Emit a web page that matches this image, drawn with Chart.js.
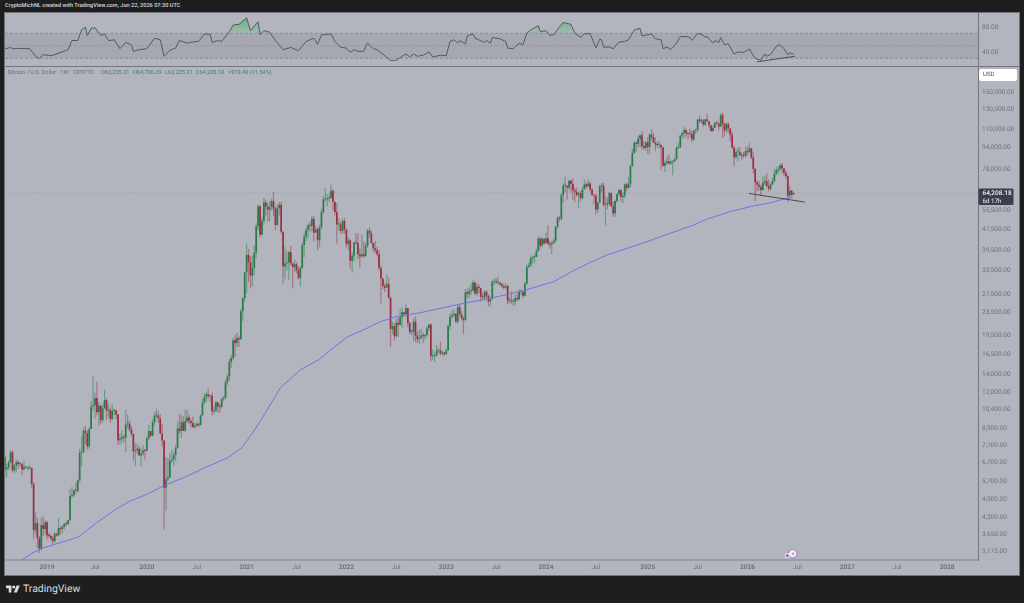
<!DOCTYPE html>
<html>
<head>
<meta charset="utf-8">
<title>Bitcoin / U.S. Dollar weekly</title>
<script src="https://cdn.jsdelivr.net/npm/chart.js@4"></script>
<style>
  html, body { margin: 0; padding: 0; background: #1e1e1e; width: 1024px; height: 603px; overflow: hidden; }
  body { position: relative; font-family: Roboto, "Liberation Sans", sans-serif; text-rendering: geometricPrecision; }
  #panel { position: absolute; left: 4px; top: 12px; width: 1014px; height: 562px; background: #b2b5be; border: 1px solid #6f727b; box-sizing: content-box; }
  #divider { position: absolute; left: 5px; top: 66px; width: 1014px; height: 1px; background: #74777f; }
  #rsiBox { position: absolute; left: 5px; top: 13px; width: 1014px; height: 53px; }
  #priceBox { position: absolute; left: 5px; top: 67px; width: 1014px; height: 507px; }
  canvas { display: block; }
  #credit { position: absolute; left: 5px; top: 2px; font-size: 5.6px; line-height: 9px; font-weight: 500; color: #d6d8de; white-space: nowrap; }
  .lg { position: absolute; top: 69px; font-size: 5.6px; line-height: 9px; color: #3f7f58; white-space: nowrap; }
  #lgName { left: 8px; font-size: 5.6px; color: #6c6f79; }
  #usd { position: absolute; left: 979px; top: 69px; width: 38px; height: 12px; border-radius: 2px; background: #fff; color: #4a4c55; font-size: 6px; line-height: 12px; text-indent: 4px; }
  #brand { position: absolute; left: 23px; top: 582px; font-size: 10.4px; line-height: 14px; font-weight: 400; color: #dcdde0; white-space: nowrap; }
  #logo { position: absolute; left: 6px; top: 585px; }
  #marker { position: absolute; left: 782px; top: 547px; }
</style>
</head>
<body>
<div id="panel"></div>
<div id="rsiBox"><canvas id="rsi" width="1014" height="53"></canvas></div>
<div id="divider"></div>
<div id="priceBox"><canvas id="price" width="1014" height="507"></canvas></div>
<div id="credit">CryptoMichNL created with TradingView.com, Jun 22, 2026 07:30 UTC</div>
<div class="lg" id="lgName">Bitcoin / U.S. Dollar · 1W · CRYPTO</div>
<div class="lg" style="left:101px">O63,235.31</div>
<div class="lg" style="left:133px">H64,706.39</div>
<div class="lg" style="left:165px">L63,235.31</div>
<div class="lg" style="left:196px">C64,208.18</div>
<div class="lg" style="left:228px">+973.40 (+1.54%)</div>
<div id="usd">USD</div>
<svg id="marker" width="16" height="13" viewBox="0 0 16 13">
  <circle cx="10.7" cy="6.7" r="4.2" fill="#f4eef6" stroke="#b565cf" stroke-width="1"/>
  <path d="M11.6 4.6 9.9 7h1.5l-1 2.2 2-2.8h-1.4z" fill="#8e44ad"/>
  <circle cx="5.3" cy="8.7" r="2.4" fill="#e9e9f3"/>
  <path d="M3.9 8.7h2.8M5.3 7.3v2.8" stroke="#4a3fd0" stroke-width="1"/>
</svg>
<svg id="logo" width="14" height="8" viewBox="0 3 36 20">
  <path d="M14 22H7V11H0V4h14v18zM28 22h-8l7.5-18h8L28 22z" fill="#dcdde0"/>
  <circle cx="20" cy="8" r="4" fill="#dcdde0"/>
</svg>
<div id="brand">TradingView</div>

<script>
// Weekly candles, first bar opening Aug 6 2018, last bar Jun 22 2026. X values are week numbers.
const firstOpen = 7000;

const closes = [
  6300,6400,6700,7270,6250,6500,6700,6600,6580,6290,6410,6410,6360,6380,5580,3780,4020,3530,3240,3950,3820,4040,
  3620,3600,3530,3450,3670,3620,3850,3820,3900,3990,3980,4110,5040,5070,5280,5270,5750,7250,7260,8730,8550,7650,8850,10680,10800,11480,10190,10770,9530,10520,11290,10320,10370,9600,10300,10350,10000,8050,8150,8270,8220,9200,9260,8800,8480,7330,7400,7500,7090,7220,7380,7350,
  8180,8700,8360,9350,9900,9900,9680,8530,8040,5400,5800,5900,6770,6860,7100,7550,8880,8700,9370,8720,9450,9750,9460,9300,9000,9070,9230,9160,9930,11050,11600,11850,11650,11700,10250,10330,11080,10700,10650,11370,11500,13100,13750,15500,16050,18650,18200,19000,18800,23800,26500,33000,
  38200,36000,32100,34300,38900,48600,57400,45200,50900,59300,57300,55800,57100,60000,56300,49100,56600,58200,46400,34700,35600,35800,39100,35600,34500,35300,33500,31500,34200,41500,44600,47100,49000,48800,51700,46000,47300,43200,48200,54700,60900,60900,61300,61500,65500,59700,54700,49300,49300,46700,50800,47300,
  41800,43100,36300,37900,42400,42200,38400,37700,38400,37800,41300,46800,45800,42200,40400,39700,38500,34100,31300,29400,29000,29900,26600,20500,21000,19300,21600,21200,22600,23600,23200,24400,21500,20000,20000,21800,19400,18800,19000,19400,19300,19500,20600,21300,16300,16300,16400,17100,17100,16700,16800,16600,
  17100,21000,22700,23000,23300,21800,24600,23200,22400,22100,27900,27500,28170,28300,30300,27600,29200,28900,26800,26700,28000,27100,25800,26300,30500,30500,30300,30300,29800,29300,29000,29400,26000,26000,25800,25800,26600,26300,28000,28000,27100,30000,34500,35000,37000,37400,37500,39400,43800,41300,43700,42100,
  43900,41900,41600,42100,43000,48300,52100,51700,63100,68300,68400,67200,71300,69300,65700,64900,63100,64000,61500,66200,69000,67800,69600,66200,63200,62700,55900,59200,68200,68300,58200,58700,58400,64200,57300,54100,60000,63600,65900,62100,62800,69000,67000,69400,80400,89800,97900,97000,101100,104400,95200,93700,98300,
  94500,104800,102600,97700,96500,96100,96200,94200,80700,82600,83800,82300,83500,83700,85200,93700,94300,104100,106400,109000,105800,105600,105500,100800,108400,109200,119100,117400,117900,114200,119300,117400,113500,108200,111100,115400,115300,112100,123500,115200,108600,114500,110600,104700,94000,86800,90400,90400,88200,88000,87800,91500,
  90500,93600,86500,78700,70300,68800,67700,65900,70000,71000,68000,66500,69000,71000,75500,77500,78500,81000,79000,76000,74000,62800,65500,63235.31,64208.18
];

const highs = [
  7150,6600,6800,7400,7400,6600,6850,6800,6700,6650,6800,6500,6450,6550,6400,5650,4400,4200,3600,4200,4250,4100,
  4100,3700,3660,3600,3730,3700,4200,3900,3950,4010,4060,4130,5350,5450,5350,5650,5800,7500,8350,8950,9080,8800,8990,11200,13800,12000,13150,11100,10650,10950,12300,11500,10950,10600,10900,10500,10350,10050,8500,8800,8450,10400,9950,9500,9080,8500,7850,7800,7650,7500,7700,7500,
  8300,9180,8650,9600,10200,10500,10300,9990,9200,8000,7000,6950,7200,7450,7300,7750,9450,10050,9950,9850,10400,10400,10000,9600,9800,9300,9450,9300,10000,11400,11900,12100,12450,11750,12050,10750,11200,11000,10950,11500,11700,13350,14000,15950,16500,18950,19500,19900,19400,24300,26800,33000,
  41900,40100,37800,38000,41300,49700,58300,58000,52600,61700,60800,59000,60000,61300,64900,57500,58400,59500,59600,46600,40800,39400,39500,41300,35700,36700,35900,34700,34800,42500,46000,48100,49700,50500,52900,52900,48800,47900,49300,56000,62900,67000,63700,64000,69000,66300,59400,59000,51900,50500,51900,52100,
  47500,44300,43500,38900,42500,45800,45800,40300,45400,42600,42300,47500,48200,46900,42400,42900,40800,39800,35000,31400,30100,32400,31600,26900,21800,21500,22400,22500,24200,24600,23700,25200,24400,21800,20500,22400,22800,20000,20300,20500,19900,19700,21000,21400,21400,17200,16800,17900,17400,18400,17100,16900,
  17400,21300,23300,23800,24200,23400,25200,25200,23800,22800,28600,28800,29100,30000,31000,30500,30000,29900,29000,27700,28400,28400,27400,26800,30800,31400,31400,31800,30300,30200,30000,30100,29700,26800,28100,26400,27400,27400,28600,28600,28100,30400,35200,35900,37900,37900,38400,40200,44700,44400,44300,43800,
  45900,49000,43000,42800,43900,48600,52800,52900,64000,69900,73800,68100,71500,71300,72700,67100,67200,64700,65500,67700,71900,70000,71900,70500,66800,63300,63800,59500,68400,70000,70000,62700,61800,65000,64500,59800,60600,64100,66500,66000,64400,69500,70000,73600,81500,93400,99500,98900,104000,105200,108300,99900,99000,
  102700,106400,109900,106400,102400,98800,99500,96500,95000,84500,87500,88700,85000,84200,86500,95700,97900,104300,107100,111900,110400,106800,110500,108900,108800,110500,119500,123200,120200,119800,119300,124500,117600,113500,113400,116800,117900,113300,125700,126200,115900,116000,116400,107300,107500,96000,93000,94100,94600,90500,90600,94800,
  94800,97900,93000,90500,79400,71500,70900,69000,74000,74000,76000,72000,70000,73000,78500,80000,80500,82500,82500,79000,77500,74500,68000,66000,64706.39
];

const lows = [
  5900,5900,6250,6650,6150,6100,6150,6350,6450,6000,6250,6350,6250,6300,5400,3500,3650,3250,3120,3200,3600,3650,
  3500,3550,3450,3350,3400,3580,3600,3650,3680,3800,3900,3950,4100,4950,5000,5150,5200,5650,6450,7500,7800,7450,7500,8950,10300,9650,9900,9100,9200,9350,10500,9500,9800,9300,9600,9950,9600,7750,7750,7850,7900,7300,8900,8650,8300,6800,6500,7150,7050,6450,7050,6850,
  7700,8050,8250,8300,9100,9700,9300,8450,7650,3800,4450,5700,5850,6650,6500,6750,7500,8500,8200,8700,8650,9300,9200,8950,8900,8850,9050,8950,9100,9850,10900,11100,11400,11100,9900,10000,10200,10150,10150,10500,11200,11350,12800,13200,14800,15750,16200,17600,17600,18700,21900,25800,
  27700,30400,28800,29200,32300,37000,47000,44100,45000,49300,53200,50500,50400,55500,53000,47000,48800,53000,45700,30000,31200,33400,31000,34900,28800,33000,32700,31000,29300,34000,37500,42800,43800,46400,46500,42800,46700,39600,40800,47200,53900,59500,57500,59500,61500,55600,53300,42000,46700,45600,45500,45700,
  40600,39700,34000,32900,36200,41700,36800,34400,37200,37200,37600,40500,44200,41900,39200,38600,37700,33600,25400,28700,28000,29300,26600,17600,19700,18600,19000,19200,21200,20700,22700,22700,20800,19600,19500,18500,18300,18200,18100,18900,18200,18700,19200,20100,15600,15800,15500,16300,16700,16400,16400,16300,
  16500,17100,20400,22300,22600,21500,21400,22800,21900,19600,21800,26600,26500,27200,28000,27200,26900,27600,25800,26100,25900,26500,24800,24800,26300,29500,29900,29700,29500,29000,28600,28800,25200,25400,25400,24900,25000,26000,26000,27200,26600,26900,29700,34100,34600,35600,35700,37500,39200,40200,41000,41600,
  42600,41500,40300,38500,41900,42300,47700,50500,50900,59000,64500,60800,65900,64500,60700,59600,62400,56500,60100,60800,66600,66600,67600,65100,62700,58500,53400,54300,63400,64500,57100,49000,56100,57800,57200,52500,52600,59200,62700,59900,58900,61500,65200,66800,67500,80300,89400,90800,94500,94100,92100,92500,91300,
  89300,89100,100100,97800,91200,94100,93400,78200,80000,76600,81200,81600,81300,74500,83100,85100,92900,93500,100800,102000,103100,100400,102700,98200,99500,105100,107500,115700,114700,112000,112700,116800,110700,107400,107300,110800,114400,108700,112500,102000,103500,106800,106300,98900,93000,80600,85400,83800,87500,84500,86400,86800,
  88000,90000,85500,75700,60000,65000,65600,62500,65500,68500,67500,65000,65700,68500,70500,74500,75500,77500,76000,74000,72500,59500,61500,62500,63235.31
];

// Long-period moving average, read at the week numbers listed here.
const maWeeks = [8.8,14.7,19.9,38.2,47.9,57.5,65.3,74,82.5,94,105.3,115.8,123.6,129.5,133.1,143.6,154,163.5,171.2,178.4,186.9,195.7,204.4,216.6,225.3,240,253,270.3,286,294.8,305.3,314,331.4,359,366.1,378.3,390.3,399.2,406,410.5];
const maValues = [2944,3130,3256,3568,4027,4492,4830,5110,5480,5910,6440,6930,7570,8630,9440,12500,14540,15820,17500,19175,20340,21800,22780,23500,24240,25500,26520,28280,30500,33030,35920,38200,41900,49100,51660,55000,57700,59160,61100,61900];

// RSI pane: week numbers and readings.
const rsiWeeks = [0,3,4,6,13,16,18,20,24,26,33,35,38,40,42,43,45,47,50,52,54,57,60,63,66,67,70,74,78,81,83,86,89,91,95,97,101,104,107,108,111,113,117,119,122,126,128,132,133,135,138,141,145,149,153,157,161,163,165,170,172,175,
  178,180,182,184,187,189,192,194,198,201,204,209,211,213,215,218,221,223,227,230,232,234,236,237,240,241,244,245,250,251,253,254,258,261,262,265,268,270,272,274,278,279,282,284,286,288,291,295,297,300,302,305,308,310,311,312,315,317,320,323,325,328,331,332,337,339,342,343,345,347,350,352,
  355,357,358,361,363,365,366,369,370,372,373,375,377,380,382,385,388,391,394,396,397,399,402,404,406,408,409,411];
const rsiValues = [44.8,47.4,44.8,45.8,45.3,33.2,29.5,35.8,34.2,35.8,43.7,58.4,58.4,75.3,79.5,66.3,77.9,78.9,66.3,69,58.4,59.5,45.3,55.3,51.6,41.1,43.7,45.3,62.1,59.5,33.2,42.6,46.3,58.4,54.2,55.8,56.9,68.9,68.4,55.3,58.4,56.9,72.6,83.2,84.2,94.7,74.2,88.4,67.4,74.2,71.6,58.4,43.7,47.4,42.1,56.9,62.1,52.6,67.4,68.9,56.9,47.4,
  46.3,39.5,43.7,41.1,41.1,54.2,45.3,43.7,34.2,26.3,26.9,36.9,32.1,36.9,33.2,34.8,40,32.1,34.8,34.2,56.9,59.5,54.2,58.4,53.2,65.8,68.9,62.1,55.3,58.4,54.2,63.2,61.1,56.9,46.3,45.3,54.2,51.6,70,75.3,82.1,72.6,74.2,66.8,67.4,76.3,87.4,84.2,70,63.7,68.9,69.5,46.3,60.5,59.5,47.9,47.9,45.3,55.8,56.9,59.5,75.3,77.9,65.8,68.9,61.1,59.5,45.3,47.9,43.7,54.2,64.7,
  64.7,63.2,58.4,69.5,68.4,63.7,64.7,54.2,58.4,55.3,63.2,51.6,53.2,36.9,40,39.5,44.8,29.5,26.9,36.9,33.2,35.8,49,51.6,45.3,35.8,38.4,36.9];

// Hand-drawn trend lines.
const priceTrendWeeks = [387.7, 416.9];
const priceTrendValues = [64000, 59500];
const rsiTrendWeeks = [391.9, 411.7];
const rsiTrendValues = [24.2, 33.2];

// Axis labels.
const timeTickWeeks = [22,47,74,100,126,152,178,204,230,256,282,308,335,361,387,413,439,465,491];
const timeTickLabels = ['2019','Jul','2020','Jul','2021','Jul','2022','Jul','2023','Jul','2024','Jul','2025','Jul','2026','Jul','2027','Jul','2028'];
const priceTicks = [150000,130000,110000,94000,78000,55500,47500,39500,33500,27500,23500,19500,16500,14000,12000,10400,8900,7700,6700,5700,4900,4200,3650,3175];
const rsiTicks = [80, 40];
const lastPrice = 64208.18;
const barCountdown = '6d 17h';

const weekMin = 0.1, weekMax = 507.1;
const UP = '#2a7a4a', DOWN = '#9a2f44', UP_WICK = 'rgba(42,125,78,0.5)', DOWN_WICK = 'rgba(155,35,57,0.45)';
const TICK_COLOR = '#6d707a', AXIS_LINE = '#74777f', TREND = 'rgba(50,51,56,0.8)';
const fontFamily = 'Roboto, "Liberation Sans", sans-serif';

const zip = (xs, ys) => xs.map((x, i) => ({ x, y: ys[i] }));
const opens = closes.map((_, i) => (i === 0 ? firstOpen : closes[i - 1]));
const isUp = i => closes[i] >= opens[i];

// Fixed axis sizes; no extra room reserved for the outermost labels.
const fitPriceAxis = s => { s.width = 41; s.paddingTop = 0; s.paddingBottom = 0; };
const fitTimeAxis = s => { s.height = 14; s.paddingLeft = 0; s.paddingRight = 0; };

// Fractional glyph advances keep the very small axis text at its true width.
Chart.register({
  id: 'preciseText',
  beforeDraw(chart) { chart.ctx.textRendering = 'geometricPrecision'; }
});

// Current-price tag on the price axis, following the y scale.
const lastPriceTag = {
  id: 'lastPriceTag',
  afterDraw(chart) {
    const { ctx, scales: { y } } = chart;
    const py = y.getPixelForValue(lastPrice);
    const left = y.left + 0.5;
    ctx.save();
    ctx.fillStyle = '#3b3e4c';
    ctx.beginPath();
    ctx.roundRect(left, py - 4.5, 35, 16.5, 1.5);
    ctx.fill();
    ctx.fillStyle = '#f2f3f5';
    ctx.textBaseline = 'middle';
    ctx.font = '500 6.5px ' + fontFamily;
    ctx.fillText(lastPrice.toLocaleString('en-US', { minimumFractionDigits: 2 }), left + 4, py);
    ctx.font = '6.2px ' + fontFamily;
    ctx.fillText(barCountdown, left + 4, py + 8);
    ctx.restore();
  }
};

new Chart(document.getElementById('price'), {
  type: 'bar',
  plugins: [lastPriceTag],
  data: {
    datasets: [
      { type: 'line', order: 0, data: zip(priceTrendWeeks, priceTrendValues), borderColor: TREND, borderWidth: 1, pointRadius: 0 },
      { type: 'line', order: 1, data: zip(maWeeks, maValues), borderColor: '#7272e2', borderWidth: 1, pointRadius: 0, tension: 0 },
      { type: 'bar', order: 2, grouped: false, barThickness: 1.7, minBarLength: 1, inflateAmount: 0,
        data: closes.map((c, i) => ({ x: i, y: [opens[i], c] })),
        backgroundColor: ctx => (isUp(ctx.dataIndex) ? UP : DOWN) },
      { type: 'bar', order: 3, grouped: false, barThickness: 1.2, inflateAmount: 0,
        data: closes.map((_, i) => ({ x: i, y: [lows[i], highs[i]] })),
        backgroundColor: ctx => (isUp(ctx.dataIndex) ? UP_WICK : DOWN_WICK) },
      { type: 'line', order: 4, data: zip([weekMin, weekMax], [lastPrice, lastPrice]), borderColor: '#9a9da6', borderWidth: 1, borderDash: [1, 2], pointRadius: 0 }
    ]
  },
  options: {
    responsive: false, animation: false, events: [],
    layout: { padding: 0 },
    plugins: { legend: { display: false }, tooltip: { enabled: false } },
    scales: {
      x: {
        type: 'linear', offset: false, min: weekMin, max: weekMax,
        grid: { display: false, drawTicks: false },
        border: { display: true, color: '#999ca5', width: 2 },
        afterBuildTicks: s => { s.ticks = timeTickWeeks.map(value => ({ value })); },
        afterFit: fitTimeAxis,
        ticks: {
          autoSkip: false, maxRotation: 0, padding: 3, color: TICK_COLOR,
          font: c => ({ family: fontFamily, size: 6.5, weight: timeTickLabels[c.index] === 'Jul' ? 400 : 700 }),
          callback: (_, i) => timeTickLabels[i]
        }
      },
      y: {
        type: 'logarithmic', position: 'right', min: 2944, max: 185060, bounds: 'data',
        grid: { display: false, drawTicks: false },
        border: { display: true, color: AXIS_LINE, width: 1 },
        afterBuildTicks: s => { s.ticks = priceTicks.map(value => ({ value })); },
        afterFit: fitPriceAxis,
        ticks: {
          autoSkip: false, padding: 4, color: TICK_COLOR, font: { family: fontFamily, size: 6.5 },
          callback: v => Number(v).toLocaleString('en-US', { minimumFractionDigits: 2 })
        }
      }
    }
  }
});

const rsiCanvas = document.getElementById('rsi');
const overboughtFill = rsiCanvas.getContext('2d').createLinearGradient(0, 4, 0, 20);
overboughtFill.addColorStop(0, 'rgba(62,170,90,0.75)');
overboughtFill.addColorStop(1, 'rgba(110,200,130,0.25)');

new Chart(rsiCanvas, {
  type: 'line',
  data: {
    datasets: [
      { order: 0, data: zip(rsiTrendWeeks, rsiTrendValues), borderColor: TREND, borderWidth: 1, pointRadius: 0 },
      { order: 1, data: zip(rsiWeeks, rsiValues), borderColor: '#565860', borderWidth: 1, pointRadius: 0,
        fill: { value: 70, above: overboughtFill, below: 'rgba(0,0,0,0)' } },
      { order: 2, data: zip([weekMin, weekMax], [70, 70]), borderColor: '#8b8e97', borderWidth: 1, borderDash: [3, 2], pointRadius: 0,
        fill: { value: 30 }, backgroundColor: 'rgba(120,123,134,0.22)' },
      { order: 3, data: zip([weekMin, weekMax], [50, 50]), borderColor: '#8b8e97', borderWidth: 1, borderDash: [1, 2], pointRadius: 0 },
      { order: 4, data: zip([weekMin, weekMax], [30, 30]), borderColor: '#8b8e97', borderWidth: 1, borderDash: [3, 2], pointRadius: 0 }
    ]
  },
  options: {
    responsive: false, animation: false, events: [],
    layout: { padding: 0 },
    plugins: { legend: { display: false }, tooltip: { enabled: false } },
    scales: {
      x: { type: 'linear', display: false, min: weekMin, max: weekMax },
      y: {
        type: 'linear', position: 'right', min: 17.6, max: 102.4,
        grid: { display: false, drawTicks: false },
        border: { display: true, color: AXIS_LINE, width: 1 },
        afterBuildTicks: s => { s.ticks = rsiTicks.map(value => ({ value })); },
        afterFit: fitPriceAxis,
        ticks: { autoSkip: false, padding: 4, color: TICK_COLOR, font: { family: fontFamily, size: 6.5 }, callback: v => Number(v).toFixed(2) }
      }
    }
  }
});
</script>
</body>
</html>
